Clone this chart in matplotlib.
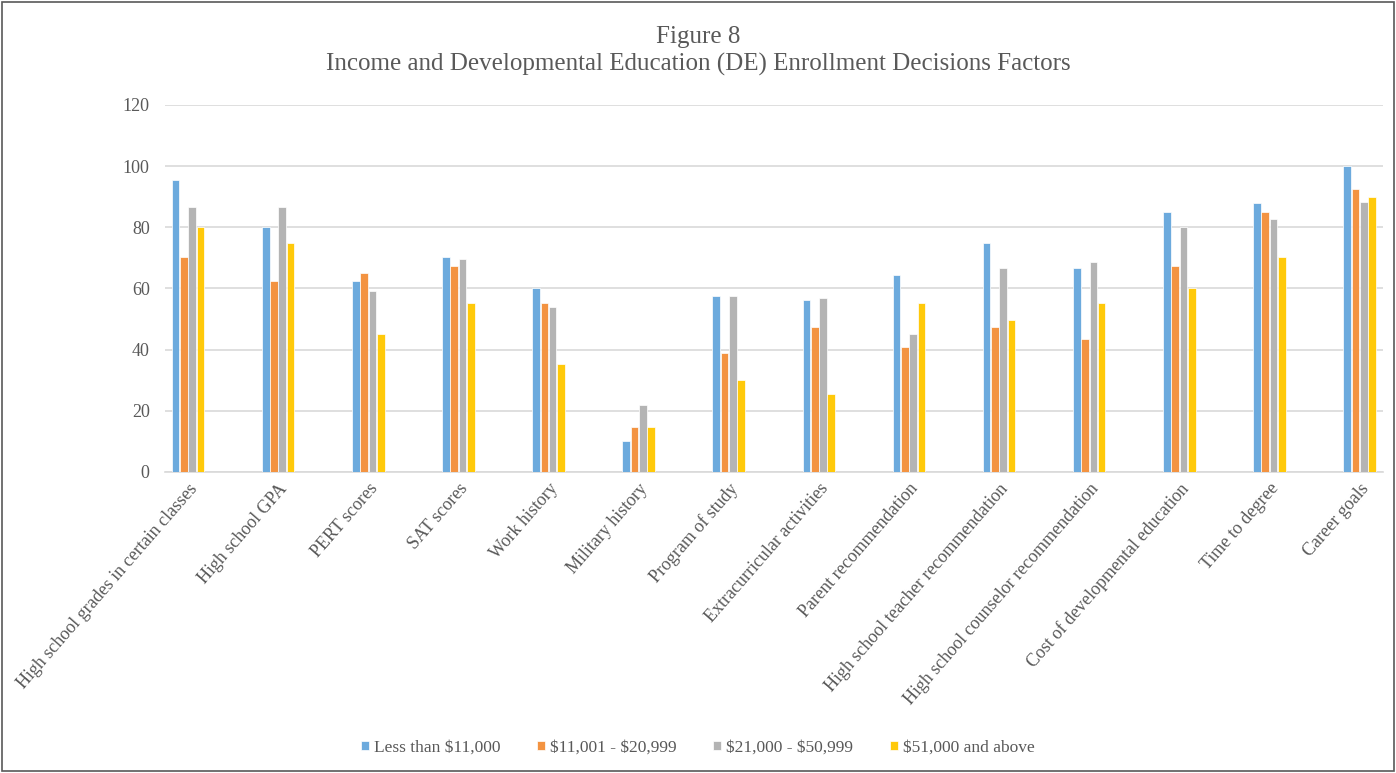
import numpy as np
import matplotlib
matplotlib.use("Agg")
import matplotlib.pyplot as plt
from matplotlib.patches import Rectangle

# ================================
# Data
# ================================
categories = [
    "High school grades in certain classes",
    "High school GPA",
    "PERT scores",
    "SAT scores",
    "Work history",
    "Military history",
    "Program of study",
    "Extracurricular activities",
    "Parent recommendation",
    "High school teacher recommendation",
    "High school counselor recommendation",
    "Cost of developmental education",
    "Time to degree",
    "Career goals",
]

less_11k = [95.4, 80.0, 62.6, 70.3, 60.3, 10.1, 57.5, 56.2, 64.4, 74.9, 66.7, 84.9, 87.8, 100.0]
k11_21 = [70.3, 62.6, 65.0, 67.3, 55.1, 14.8, 38.8, 47.5, 41.0, 47.5, 43.5, 67.3, 84.9, 92.5]
k21_51 = [86.6, 86.6, 59.1, 69.7, 53.9, 21.9, 57.5, 56.9, 45.2, 66.7, 68.5, 80.0, 82.6, 88.3]
k51_up = [80.0, 74.8, 45.2, 55.1, 35.2, 14.8, 30.0, 25.4, 55.1, 49.8, 55.1, 60.3, 70.3, 90.0]

series_names = ["Less than \\$11,000", "\\$11,001 - \\$20,999",
                "\\$21,000 - \\$50,999", "\\$51,000 and above"]
colors = ["#6CAADD", "#F39341", "#B4B4B4", "#FFC90A"]

# ================================
# Style
# ================================
plt.rcParams["font.family"] = ["Liberation Serif", "DejaVu Serif"]
text_col = "#595959"
grid_col = "#D9D9D9"

fig = plt.figure(figsize=(13.96, 7.73), dpi=100)
ax = fig.add_axes([0.1182, 0.3894, 0.8725, 0.4748])

x = np.arange(len(categories))
offsets = [-0.138, -0.046, 0.046, 0.138]
width = 0.085
for vals, name, col, off in zip([less_11k, k11_21, k21_51, k51_up],
                                series_names, colors, offsets):
    ax.bar(x + off, vals, width=width, color=col, label=name,
           edgecolor="white", linewidth=0.5, zorder=3)

ax.set_xlim(-0.255, 13.26)
ax.set_ylim(0, 120)
ax.set_yticks(range(0, 121, 20))
ax.yaxis.grid(True, color=grid_col, linewidth=1.2, zorder=0)
ax.set_axisbelow(True)

for s in ["top", "right", "left"]:
    ax.spines[s].set_visible(False)
ax.spines["bottom"].set_color(grid_col)
ax.spines["bottom"].set_linewidth(1.2)

ax.tick_params(axis="y", length=0, pad=11, labelsize=13, labelcolor=text_col)
ax.tick_params(axis="x", length=0, pad=6, labelsize=13, labelcolor=text_col)
ax.set_xticks(x)
ax.set_xticklabels(categories, rotation=49, ha="right", rotation_mode="anchor")

fig.text(0.5, 0.952, "Figure 8", ha="center", va="center",
         fontsize=18, color=text_col)
fig.text(0.5, 0.916,
         "Income and Developmental Education (DE) Enrollment Decisions Factors",
         ha="center", va="center", fontsize=18, color=text_col)

leg = fig.legend(loc="center", bbox_to_anchor=(0.5, 0.033), ncol=4,
                 frameon=False, fontsize=12.5, handlelength=0.45,
                 handleheight=0.45, handletextpad=0.3, columnspacing=2.1)
for t in leg.get_texts():
    t.set_color(text_col)

# chart border
fig.patches.append(Rectangle((0.0015, 0.0025), 0.997, 0.995, transform=fig.transFigure,
                             fill=False, edgecolor="#595959", linewidth=1.2))

fig.savefig("out.png", dpi=100)
